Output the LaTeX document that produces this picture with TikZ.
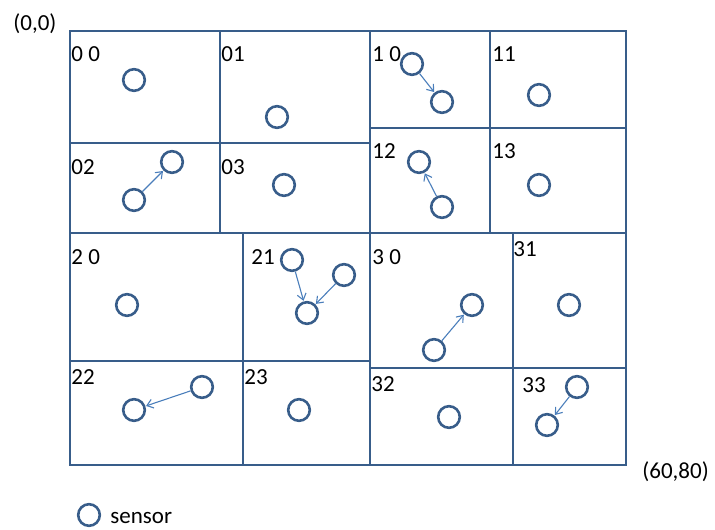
\documentclass[tikz,border=0pt]{standalone}
\usepackage{fontspec}
\setmainfont{Carlito}
\usepackage{tikz}
\usetikzlibrary{arrows.meta,positioning}
\definecolor{BoxBlue}{RGB}{56,93,138}
\definecolor{ArrowBlue}{RGB}{74,126,187}

\begin{document}
\begin{tikzpicture}[x=0.5pt,y=-0.5pt,
    cell/.style={draw=BoxBlue,line width=1.3pt},
    sensor/.style={circle,draw=BoxBlue,line width=1.3pt,minimum size=10.8pt,inner sep=0pt},
    moves/.style={ArrowBlue,line width=0.55pt,-{Straight Barb[length=3pt,width=4.5pt]},shorten >=0.3pt},
    lbl/.style={anchor=base west,inner sep=0pt,font=\fontsize{11.5}{13}\selectfont}]
  \useasboundingbox (0,0) rectangle (715,529);

  % cells
  \draw[cell] (70,31) rectangle (220,143);
  \draw[cell] (220,31) rectangle (370,143);
  \draw[cell] (70,143) rectangle (220,233);
  \draw[cell] (220,143) rectangle (370,233);
  \draw[cell] (370,31) rectangle (490,128);
  \draw[cell] (490,31) rectangle (626,128);
  \draw[cell] (370,128) rectangle (490,233);
  \draw[cell] (490,128) rectangle (626,233);
  \draw[cell] (70,233) rectangle (243,361);
  \draw[cell] (243,233) rectangle (370,361);
  \draw[cell] (70,361) rectangle (243,465);
  \draw[cell] (243,361) rectangle (370,465);
  \draw[cell] (370,233) rectangle (513,368);
  \draw[cell] (513,233) rectangle (626,368);
  \draw[cell] (370,368) rectangle (513,465);
  \draw[cell] (513,368) rectangle (626,465);

  % cell labels
  \node[lbl] (l00) at (71,62) {0 0};
  \node[lbl] (l01) at (221,62) {01};
  \node[lbl] (l02) at (71,175) {02};
  \node[lbl] (l03) at (221,175) {03};
  \node[lbl] (l10) at (372,62) {1 0};
  \node[lbl] (l11) at (492,62) {11};
  \node[lbl] (l12) at (372,159) {12};
  \node[lbl] (l13) at (492,159) {13};
  \node[lbl] (l20) at (71,264) {2 0};
  \node[lbl] (l21) at (251,264) {21};
  \node[lbl] (l22) at (71,384) {22};
  \node[lbl] (l23) at (244,384) {23};
  \node[lbl] (l30) at (372,264) {3 0};
  \node[lbl] (l31) at (513,256) {31};
  \node[lbl] (l32) at (371,391) {32};
  \node[lbl] (l33) at (522,392) {33};

  % corners
  \node[lbl] (origin) at (13,31) {(0,0)};
  \node[lbl] (corner) at (642,478) {(60,80)};

  % sensors
  \node[sensor] (s00) at (134,80) {};
  \node[sensor] (s01) at (277,117) {};
  \node[sensor] (s02a) at (134,200) {};
  \node[sensor] (s02b) at (172,162) {};
  \node[sensor] (s03) at (284,185) {};
  \node[sensor] (s10a) at (412,64) {};
  \node[sensor] (s10b) at (442,102) {};
  \node[sensor] (s11) at (539,95) {};
  \node[sensor] (s12a) at (442,207) {};
  \node[sensor] (s12b) at (419,162) {};
  \node[sensor] (s13) at (539,185) {};
  \node[sensor] (s20) at (127,305) {};
  \node[sensor] (s21a) at (292,260) {};
  \node[sensor] (s21b) at (344,275) {};
  \node[sensor] (s21c) at (307,313) {};
  \node[sensor] (s22a) at (202,387) {};
  \node[sensor] (s22b) at (134,410) {};
  \node[sensor] (s23) at (299,410) {};
  \node[sensor] (s30a) at (434,350) {};
  \node[sensor] (s30b) at (472,305) {};
  \node[sensor] (s31) at (569,305) {};
  \node[sensor] (s32) at (449,417) {};
  \node[sensor] (s33a) at (577,387) {};
  \node[sensor] (s33b) at (547,425) {};

  % moves
  \draw[moves] (s02a) -- (s02b);
  \draw[moves] (s10a) -- (s10b);
  \draw[moves] (s12a) -- (s12b);
  \draw[moves] (s21a) -- (s21c);
  \draw[moves] (s21b) -- (s21c);
  \draw[moves] (s22a) -- (s22b);
  \draw[moves] (s30a) -- (s30b);
  \draw[moves] (s33a) -- (s33b);

  % legend
  \node[sensor] (key) at (89,515) {};
  \node[lbl] (keytext) at (110,523) {sensor};
\end{tikzpicture}
\end{document}
